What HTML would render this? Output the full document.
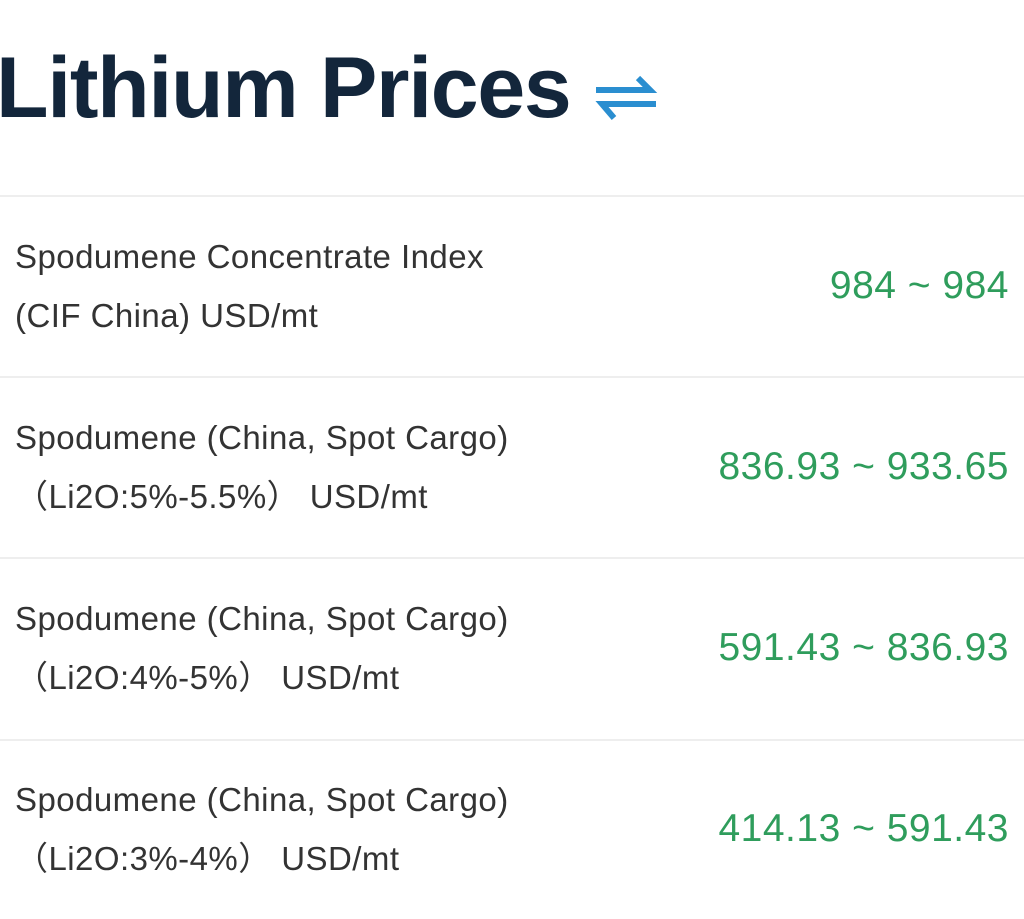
<!DOCTYPE html>
<html><head><meta charset="utf-8"><style>
body{margin:0;width:1024px;height:919px;background:#fff;overflow:hidden;font-family:"Liberation Sans","Noto Sans CJK SC",sans-serif;position:relative}
.t{position:absolute;left:-4px;top:38px;font-size:86px;line-height:100px;font-weight:bold;color:#13263b;letter-spacing:-1.3px;white-space:nowrap}
.hr{position:absolute;left:0;width:1024px;height:2px;background:#eeeeee}
.l{position:absolute;left:15px;font-size:33px;line-height:40px;color:#333;white-space:nowrap;letter-spacing:0.45px}
.v{position:absolute;right:15px;font-size:39px;line-height:46px;color:#2f9d5c;white-space:nowrap;letter-spacing:0.5px}
</style></head><body>
<div class="t">Lithium Prices</div>
<svg style="position:absolute;left:594px;top:74px" width="64" height="48" viewBox="0 0 64 48">
<path d="M2 16 H56 L44 4" stroke="#2a8ed0" stroke-width="6" fill="none"/>
<path d="M62 30 H8 L20 44" stroke="#2a8ed0" stroke-width="6" fill="none"/>
</svg>
<div class="hr" style="top:195px"></div>
<div class="l" style="top:237px">Spodumene Concentrate Index</div>
<div class="l" style="top:296px">(CIF China) USD/mt</div>
<div class="v" style="top:263px">984 ~ 984</div>
<div class="hr" style="top:376px"></div>
<div class="l" style="top:418px">Spodumene (China, Spot Cargo)</div>
<div class="l" style="top:477px">（Li2O:5%-5.5%） USD/mt</div>
<div class="v" style="top:444px">836.93 ~ 933.65</div>
<div class="hr" style="top:557px"></div>
<div class="l" style="top:599px">Spodumene (China, Spot Cargo)</div>
<div class="l" style="top:658px">（Li2O:4%-5%） USD/mt</div>
<div class="v" style="top:625px">591.43 ~ 836.93</div>
<div class="hr" style="top:739px"></div>
<div class="l" style="top:780px">Spodumene (China, Spot Cargo)</div>
<div class="l" style="top:839px">（Li2O:3%-4%） USD/mt</div>
<div class="v" style="top:806px">414.13 ~ 591.43</div>
</body></html>
